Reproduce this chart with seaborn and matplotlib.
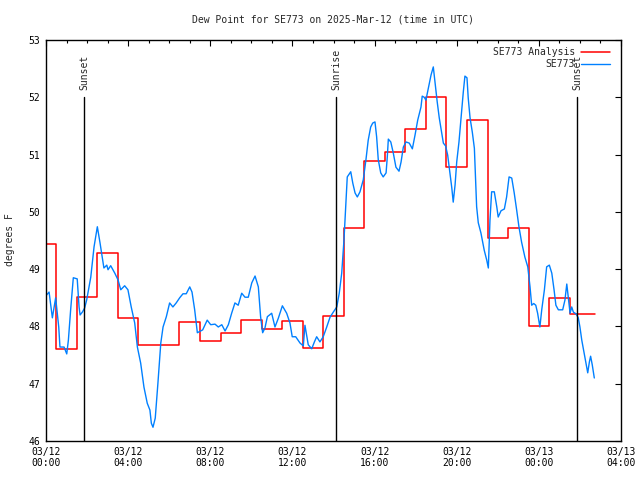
import matplotlib
matplotlib.use("Agg")
import matplotlib.pyplot as plt
import seaborn as sns
import pandas as pd

# Observed dew point (hours since 03/12 00:00 UTC, degrees F)
obs_hours = [0.03, 0.15, 0.31, 0.47, 0.62, 0.68, 0.88, 1.01, 1.09, 1.20, 1.33, 1.52, 1.61, 1.66,
             1.77, 1.88, 1.98, 2.18, 2.34, 2.50, 2.63, 2.82, 2.96, 3.02, 3.15, 3.35, 3.51, 3.64,
             3.83, 3.99, 4.15, 4.32, 4.45, 4.61, 4.77, 4.93, 5.06, 5.13, 5.21, 5.32, 5.45, 5.59,
             5.70, 5.86, 6.02, 6.18, 6.34, 6.51, 6.67, 6.83, 7.00, 7.11, 7.24, 7.37, 7.63, 7.85,
             8.02, 8.23, 8.39, 8.56, 8.72, 8.88, 9.04, 9.20, 9.36, 9.53, 9.69, 9.85, 10.02, 10.18,
             10.34, 10.45, 10.55, 10.66, 10.78, 10.99, 11.15, 11.31, 11.51, 11.72, 11.88, 11.99,
             12.16, 12.37, 12.53, 12.61, 12.77, 12.94, 13.07, 13.18, 13.34, 13.50, 13.67, 13.83,
             13.99, 14.16, 14.28, 14.40, 14.51, 14.61, 14.67, 14.84, 14.94, 15.05, 15.16, 15.29,
             15.45, 15.58, 15.69, 15.81, 15.91, 16.02, 16.10, 16.18, 16.30, 16.42, 16.56, 16.62,
             16.67, 16.79, 16.91, 17.04, 17.19, 17.29, 17.40, 17.53, 17.69, 17.84, 17.97, 18.10,
             18.26, 18.32, 18.42, 18.50, 18.62, 18.75, 18.86, 18.94, 19.05, 19.15, 19.27, 19.35,
             19.46, 19.56, 19.66, 19.76, 19.83, 19.92, 20.00, 20.11, 20.21, 20.32, 20.40, 20.50,
             20.56, 20.65, 20.76, 20.86, 20.97, 21.05, 21.18, 21.34, 21.46, 21.54, 21.62, 21.70,
             21.83, 21.95, 22.02, 22.16, 22.32, 22.43, 22.55, 22.68, 22.80, 22.92, 23.03, 23.16,
             23.32, 23.46, 23.57, 23.65, 23.75, 23.85, 23.94, 24.05, 24.14, 24.27, 24.38, 24.51,
             24.63, 24.74, 24.83, 24.95, 25.16, 25.27, 25.36, 25.43, 25.52, 25.60, 25.68, 25.81,
             25.92, 26.00, 26.09, 26.20, 26.30, 26.38, 26.46, 26.52, 26.60, 26.70]
obs_dewpt = [48.55, 48.60, 48.15, 48.50, 47.99, 47.64, 47.64, 47.52, 47.76, 48.29, 48.85, 48.83, 48.34, 48.20,
             48.25, 48.32, 48.46, 48.86, 49.39, 49.74, 49.46, 49.02, 49.07, 48.99, 49.06, 48.93, 48.81, 48.64,
             48.71, 48.64, 48.34, 48.06, 47.64, 47.36, 46.94, 46.66, 46.54, 46.31, 46.24, 46.40, 47.01, 47.71,
             47.99, 48.17, 48.41, 48.34, 48.41, 48.50, 48.57, 48.57, 48.69, 48.60, 48.29, 47.89, 47.94, 48.11,
             48.03, 48.04, 47.99, 48.03, 47.92, 48.03, 48.23, 48.41, 48.37, 48.58, 48.51, 48.51, 48.76, 48.88,
             48.69, 48.17, 47.89, 47.97, 48.17, 48.23, 47.99, 48.14, 48.36, 48.23, 48.06, 47.82,
             47.82, 47.71, 47.66, 48.02, 47.68, 47.61, 47.73, 47.82, 47.73, 47.82, 47.99, 48.16,
             48.25, 48.34, 48.58, 48.93, 49.51, 50.21, 50.61, 50.70, 50.50, 50.33, 50.26, 50.35,
             50.56, 50.91, 51.25, 51.48, 51.55, 51.57, 51.31, 50.91, 50.68, 50.61, 50.68, 50.96,
             51.27, 51.22, 51.03, 50.78, 50.71, 50.87, 51.13, 51.22, 51.20, 51.10, 51.34, 51.60,
             51.83, 52.02, 52.00, 51.95, 52.16, 52.39, 52.53, 52.27, 51.92, 51.64, 51.38, 51.20,
             51.15, 50.99, 50.70, 50.42, 50.17, 50.47, 50.87, 51.22, 51.64, 52.09, 52.37, 52.34,
             51.99, 51.64, 51.39, 51.11, 50.09, 49.81, 49.63, 49.33, 49.16, 49.02, 49.86, 50.35,
             50.35, 50.09, 49.91, 50.02, 50.05, 50.26, 50.61, 50.59, 50.33, 50.03, 49.74, 49.47,
             49.21, 49.04, 48.69, 48.37, 48.40, 48.37, 48.23, 47.99, 48.29, 48.64, 49.04, 49.07,
             48.93, 48.64, 48.37, 48.29, 48.29, 48.46, 48.74, 48.51, 48.23, 48.34, 48.25, 48.22,
             48.15, 47.99, 47.76, 47.54, 47.33, 47.19, 47.38, 47.48, 47.33, 47.10]

# Hourly analysis values
ana_hours = [0, 1, 2, 3, 4, 5, 6, 7, 8, 9, 10, 11, 12, 13, 14, 15, 16, 17, 18, 19, 20,
             21, 22, 23, 24, 25, 26, 26.75]
ana_dewpt = [49.44, 47.60, 48.51, 49.28, 48.15, 47.67, 47.67, 48.08, 47.75, 47.88, 48.11,
             47.96, 48.09, 47.62, 48.18, 49.72, 50.89, 51.05, 51.44, 52.00, 50.78, 51.60,
             49.54, 49.72, 48.00, 48.50, 48.22, 48.22]

event_hours = [1.87, 14.12, 25.87]
event_labels = ["Sunset", "Sunrise", "Sunset"]

tick_hours = [0, 4, 8, 12, 16, 20, 24, 28]
tick_labels = ["03/12\n00:00", "03/12\n04:00", "03/12\n08:00", "03/12\n12:00",
               "03/12\n16:00", "03/12\n20:00", "03/13\n00:00", "03/13\n04:00"]

obs = pd.DataFrame({"hour": obs_hours, "dewpt": obs_dewpt})
ana = pd.DataFrame({"hour": ana_hours, "dewpt": ana_dewpt})

sns.set_theme(style="white")
plt.rcParams["font.family"] = ["DejaVu Sans Mono"]
plt.rcParams["font.size"] = 7

fig = plt.figure(figsize=(6.4, 4.8), dpi=100)
ax = fig.add_axes([46 / 640, 39 / 480, 575 / 640, 401 / 480])

sns.lineplot(data=ana, x="hour", y="dewpt", ax=ax, color="#ff0000", linewidth=1.1,
             drawstyle="steps-mid", estimator=None, label="SE773 Analysis")
sns.lineplot(data=obs, x="hour", y="dewpt", ax=ax, color="#0080ff", linewidth=1.0,
             estimator=None, label="SE773")

# sunrise / sunset markers
for h, lab in zip(event_hours, event_labels):
    ax.plot([h, h], [46, 52], color="black", linewidth=1.0)
    ax.text(h, 52.12, lab, rotation=90, ha="center", va="bottom", fontsize=7)

ax.set_xlim(0, 28)
ax.set_ylim(46, 53)
ax.set_xticks(tick_hours)
ax.set_xticklabels(tick_labels)
ax.set_xticks(range(0, 29), minor=True)
ax.set_yticks(range(46, 54))
ax.tick_params(axis="both", which="both", direction="in", top=True, right=True,
               colors="black", labelsize=7)
ax.tick_params(axis="both", which="major", length=4.5, width=0.8, pad=4)
ax.tick_params(axis="x", which="minor", length=2.5, width=0.8)
ax.set_xlabel("")
ax.set_ylabel("")
for sp in ax.spines.values():
    sp.set_color("black")
    sp.set_linewidth(1.0)

fig.text(10 / 640, 0.5, "degrees F", rotation=90, ha="center", va="center", fontsize=7)
fig.text(333 / 640, 1 - 19 / 480, "Dew Point for SE773 on 2025-Mar-12 (time in UTC)",
         ha="center", va="center", fontsize=7)

ax.legend(loc="upper right", bbox_to_anchor=(0.986, 0.99), frameon=False,
          markerfirst=False, fontsize=7, handlelength=3.0, handletextpad=0.6,
          labelspacing=0.25, borderaxespad=0.0, borderpad=0.3)

fig.savefig("out.png", dpi=100)
